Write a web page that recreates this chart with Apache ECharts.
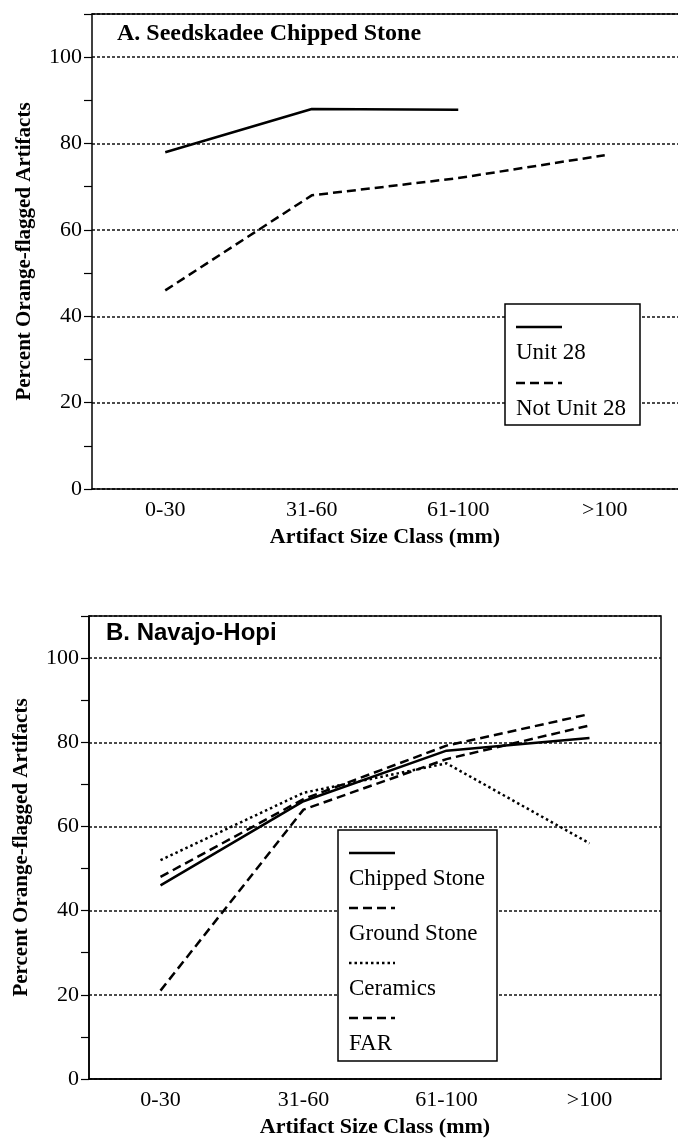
<!DOCTYPE html>
<html>
<head>
<meta charset="utf-8">
<title>Orange-flagged artifacts by size class</title>
<script src="https://cdn.jsdelivr.net/npm/echarts@6/dist/echarts.min.js"></script>
<style>
  html, body { margin: 0; padding: 0; background: #fff; }
  #chart { width: 678px; height: 1139px; }
</style>
</head>
<body>
<div id="chart"></div>
<script>
// size classes on the x axis (both panels)
const sizeClasses = ["0-30", "31-60", "61-100", ">100"];
// y axis labels that are printed (ticks every 10, labels every 20)
const yLabelValues = [0, 20, 40, 60, 80, 100];

// A. Seedskadee Chipped Stone
const unit28 = [78, 88, 87.8, null];
const notUnit28 = [46, 68, 72, 77.3];

// B. Navajo-Hopi
const chippedStone = [46, 66, 78, 81];
const groundStone = [48, 66.5, 79.2, 86.7];
const ceramics = [52, 68, 75, 56];
const far = [21, 64, 76, 84];

const serif = "'Liberation Serif', 'Times New Roman', serif";
const sans = "'Liberation Sans', Arial, sans-serif";

const SOLID = "solid";
const DASHED = [9, 5];
const DOTTED = [2.5, 3];

const panelA = [
  { name: "Unit 28", data: unit28, dash: SOLID },
  { name: "Not Unit 28", data: notUnit28, dash: DASHED },
];
const panelB = [
  { name: "Chipped Stone", data: chippedStone, dash: SOLID },
  { name: "Ground Stone", data: groundStone, dash: DASHED },
  { name: "Ceramics", data: ceramics, dash: DOTTED },
  { name: "FAR", data: far, dash: DASHED },
];

function xAxisFor(gridIndex) {
  return {
    type: "category",
    gridIndex: gridIndex,
    data: sizeClasses,
    boundaryGap: true,
    name: "Artifact Size Class (mm)",
    nameLocation: "middle",
    nameGap: 37,
    nameTextStyle: { fontFamily: serif, fontWeight: "bold", fontSize: 22, color: "#000" },
    axisLine: { lineStyle: { color: "#000", width: 1.5 } },
    axisTick: { alignWithLabel: true, length: 6, lineStyle: { color: "#000", width: 1.2 } },
    axisLabel: { fontFamily: serif, fontSize: 22, color: "#000", margin: 10 },
    splitLine: { show: false },
  };
}

// top frame line of panel A (no right border there, the frame runs off the page)
const topFrameA = {
  type: "category",
  gridIndex: 0,
  position: "top",
  data: sizeClasses,
  axisLine: { show: true, onZero: false, lineStyle: { color: "#000", width: 1.5 } },
  axisTick: { show: false },
  axisLabel: { show: false },
  splitLine: { show: false },
  z: 6,
};

function yAxesFor(gridIndex) {
  return [
    {
      type: "value",
      gridIndex: gridIndex,
      min: 0,
      max: 110,
      interval: 10,
      name: "Percent Orange-flagged Artifacts",
      nameLocation: "middle",
      nameGap: 57,
      nameTextStyle: { fontFamily: serif, fontWeight: "bold", fontSize: 21, color: "#000" },
      axisLine: { show: true, lineStyle: { color: "#000", width: 1.5 } },
      axisTick: { show: true, length: 8, lineStyle: { color: "#000", width: 1.2 } },
      axisLabel: {
        fontFamily: serif, fontSize: 22, color: "#000", margin: 10,
        formatter: (v) => (yLabelValues.indexOf(v) >= 0 ? String(v) : ""),
      },
      splitLine: { show: false },
    },
    {
      // dotted reference lines every 20
      type: "value",
      gridIndex: gridIndex,
      min: 0,
      max: 110,
      interval: 20,
      axisLine: { show: false },
      axisTick: { show: false },
      axisLabel: { show: false },
      splitLine: { show: true, lineStyle: { color: "#111", width: 1.5, type: [3, 2] } },
    },
  ];
}

function seriesFor(list, gridIndex) {
  return list.map((s) => ({
    name: s.name,
    type: "line",
    xAxisIndex: gridIndex,
    yAxisIndex: gridIndex * 2,
    data: s.data,
    symbol: "none",
    connectNulls: false,
    silent: true,
    lineStyle: { color: "#000", width: 2.5, type: s.dash },
    z: 5,
  }));
}

// legend box: sample line above each label
function legendGraphic(list, box) {
  const els = [{
    type: "rect",
    shape: { x: box.x, y: box.y, width: box.w, height: box.h },
    style: { fill: "#fff", stroke: "#000", lineWidth: 1.5 },
    z: 10,
  }];
  list.forEach((s, i) => {
    const y0 = box.y + box.first + i * box.step;
    els.push({
      type: "line",
      shape: { x1: box.x + 11, y1: y0, x2: box.x + 57, y2: y0 },
      style: {
        stroke: "#000", lineWidth: 2.5,
        lineDash: s.dash === SOLID ? null : s.dash,
      },
      z: 11,
    });
    els.push({
      type: "text",
      x: box.x + 11,
      y: y0 + box.step * 0.47,
      style: {
        text: s.name, fill: "#000", font: "23px " + serif,
        textVerticalAlign: "middle", verticalAlign: "middle",
      },
      z: 11,
    });
  });
  return els;
}

const chart = echarts.init(document.getElementById("chart"), null, { renderer: "canvas" });
chart.setOption({
  animation: false,
  backgroundColor: "#fff",
  title: [
    {
      text: "A. Seedskadee Chipped Stone",
      left: 117, top: 22, padding: 0,
      textStyle: { fontFamily: serif, fontWeight: "bold", fontSize: 24, color: "#000" },
    },
    {
      text: "B. Navajo-Hopi",
      left: 106, top: 621, padding: 0,
      textStyle: { fontFamily: sans, fontWeight: "bold", fontSize: 24, color: "#000" },
    },
  ],
  grid: [
    { left: 92, top: 14, width: 588, height: 475 },
    { left: 89, top: 616, width: 572, height: 467, show: true, borderColor: "#000", borderWidth: 1.5, backgroundColor: "transparent" },
  ],
  xAxis: [xAxisFor(0), xAxisFor(1), topFrameA],
  yAxis: yAxesFor(0).concat(yAxesFor(1)),
  series: seriesFor(panelA, 0).concat(seriesFor(panelB, 1)),
  graphic: legendGraphic(panelA, { x: 505, y: 304, w: 135, h: 121, first: 23, step: 56 })
    .concat(legendGraphic(panelB, { x: 338, y: 830, w: 159, h: 231, first: 23, step: 55 })),
});
</script>
</body>
</html>
